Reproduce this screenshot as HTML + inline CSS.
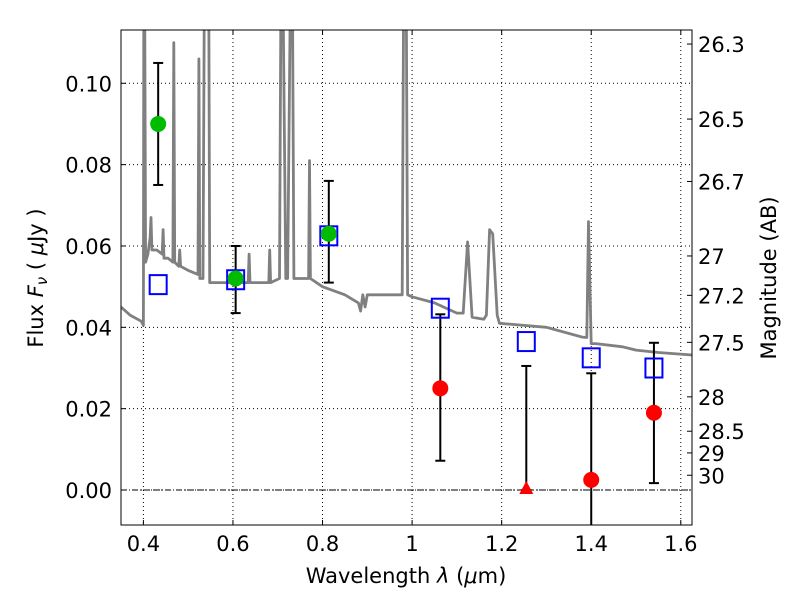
<!DOCTYPE html>
<html><head><meta charset="utf-8"><style>
body{margin:0;background:#fff}
svg{display:block;font-family:"DejaVu Sans","Liberation Sans",sans-serif}
</style></head><body>
<svg id="chart" width="800" height="600"></svg>
<script>
const specLam=[0.35,0.37,0.395,0.400,0.401,0.403,0.405,0.41,0.415,0.417,0.419,0.43,0.442,0.444,0.446,0.455,0.466,0.468,0.470,0.479,0.481,0.483,0.50,0.522,0.524,0.526,0.533,0.536,0.540,0.546,0.548,0.56,0.60,0.634,0.636,0.638,0.68,0.682,0.684,0.704,0.707,0.712,0.718,0.722,0.728,0.733,0.736,0.76,0.769,0.771,0.773,0.80,0.85,0.88,0.885,0.89,0.895,0.90,0.95,0.978,0.981,0.984,0.987,0.99,1.0,1.05,1.10,1.114,1.124,1.134,1.16,1.166,1.173,1.18,1.19,1.195,1.30,1.38,1.39,1.394,1.40,1.41,1.47,1.50,1.55,1.625];
const specFlux=[0.045,0.043,0.0415,0.0405,0.12,0.12,0.056,0.058,0.062,0.067,0.059,0.059,0.058,0.064,0.057,0.057,0.056,0.110,0.056,0.055,0.059,0.055,0.054,0.053,0.106,0.052,0.052,0.12,0.12,0.12,0.051,0.051,0.051,0.051,0.058,0.051,0.051,0.059,0.051,0.052,0.12,0.12,0.052,0.052,0.12,0.12,0.052,0.052,0.052,0.081,0.052,0.050,0.048,0.046,0.044,0.048,0.045,0.048,0.048,0.048,0.12,0.12,0.12,0.048,0.0475,0.046,0.0435,0.0435,0.061,0.0425,0.042,0.043,0.064,0.063,0.043,0.041,0.040,0.0376,0.0375,0.066,0.036,0.036,0.0352,0.0344,0.0338,0.0332];
const photLam=[0.433,0.606,0.814];
const photFlux=[0.090,0.052,0.063];
const photLo=[0.075,0.0435,0.051];
const photHi=[0.105,0.060,0.076];
const modelLam=[0.433,0.606,0.814,1.063,1.255,1.40,1.54];
const modelFlux=[0.0505,0.0517,0.0625,0.0447,0.0365,0.0325,0.0300];
const ulLam=[1.063,1.255,1.40,1.54];
const ulFlux=[0.025,0.0,0.0025,0.019];
const ulLo=[0.0072,0.0,-0.02,0.0017];
const ulHi=[0.0432,0.0305,0.0287,0.0362];
const ulIsLimit=[false,true,false,false];
const xTicks=[0.4,0.6,0.8,1.0,1.2,1.4,1.6];
const xTickLabels=["0.4","0.6","0.8","1","1.2","1.4","1.6"];
const yTicks=[0,0.02,0.04,0.06,0.08,0.10];
const yTickLabels=["0.00","0.02","0.04","0.06","0.08","0.10"];
const magTicks=[26.3,26.5,26.7,27,27.2,27.5,28,28.5,29,30];

const L=121,R=692,T=30,B=525,xmin=0.35,xmax=1.625,ymin=-0.0086,ymax=0.1131;
const X=v=>L+(v-xmin)/(xmax-xmin)*(R-L);
const Y=v=>B-(v-ymin)/(ymax-ymin)*(B-T);
const NS="http://www.w3.org/2000/svg";
const svg=document.getElementById('chart');
function mk(tag,attrs,parent){const e=document.createElementNS(NS,tag);for(const k in attrs)e.setAttribute(k,attrs[k]);(parent||svg).appendChild(e);return e;}
const defs=mk('defs',{});const cp=mk('clipPath',{id:'clip'},defs);mk('rect',{x:L,y:T,width:R-L,height:B-T},cp);

xTicks.forEach((v,i)=>{
  const g=mk('line',{x1:X(v),x2:X(v),y1:T,y2:B,stroke:'#000','stroke-width':1,'stroke-dasharray':'1,3'});
  
  
  mk('line',{x1:X(v),x2:X(v),y1:B,y2:B-5,stroke:'#000'});
  mk('line',{x1:X(v),x2:X(v),y1:T,y2:T+5,stroke:'#000'});
  const t=mk('text',{x:X(v),y:B+26,'text-anchor':'middle','font-size':21});
  t.textContent=xTickLabels[i];
  
  
});
yTicks.forEach((v,i)=>{
  const g=mk('line',{x1:L,x2:R,y1:Y(v),y2:Y(v),stroke:'#000','stroke-width':1,'stroke-dasharray':'1,3'});
  
  
  mk('line',{x1:L,x2:L+5,y1:Y(v),y2:Y(v),stroke:'#000'});
  const t=mk('text',{x:L-9,y:Y(v)+8,'text-anchor':'end','font-size':21});
  t.textContent=yTickLabels[i];
  
  
});
const z=mk('line',{x1:L,x2:R,y1:Y(0),y2:Y(0),stroke:'#000','stroke-width':1,'stroke-dasharray':'6,2,1,2'});


magTicks.forEach(m=>{
  const f=Math.pow(10,(23.9-m)/2.5);
  const y=Y(f);
  mk('line',{x1:R,x2:R-5,y1:y,y2:y,stroke:'#000'});
  const t=mk('text',{x:R+6,y:y+8,'font-size':21});
  t.textContent=String(m);
  
  
});
const gClip=mk('g',{'clip-path':'url(#clip)'});
let d='';specLam.forEach((l,i)=>{d+=(i?'L':'M')+X(l).toFixed(1)+','+Y(specFlux[i]).toFixed(1);});
const sp=mk('path',{d:d,fill:'none',stroke:'#808080','stroke-width':2.8,'stroke-linejoin':'round'},gClip);


function eb(x,lo,hi,capLo){
  const g=mk('g',{},gClip);
  
  
  mk('line',{x1:x,x2:x,y1:Y(lo),y2:Y(hi),stroke:'#000','stroke-width':2},g);
  mk('line',{x1:x-5,x2:x+5,y1:Y(hi),y2:Y(hi),stroke:'#000','stroke-width':2},g);
  if(capLo)mk('line',{x1:x-5,x2:x+5,y1:Y(lo),y2:Y(lo),stroke:'#000','stroke-width':2},g);
}
photLam.forEach((l,i)=>eb(X(l),photLo[i],photHi[i],true));
ulLam.forEach((l,i)=>eb(X(l),ulLo[i],ulHi[i],ulLo[i]>=ymin));
modelLam.forEach((l,i)=>{
  const r=mk('rect',{x:X(l)-8.5,y:Y(modelFlux[i])-9.5,width:17,height:19,fill:'none',stroke:'#0000ff','stroke-width':2},gClip);
  
  
});
photLam.forEach((l,i)=>{
  const c=mk('circle',{cx:X(l),cy:Y(photFlux[i]),r:8,fill:'#00bb00'},gClip);
  
  
});
ulLam.forEach((l,i)=>{
  const x=X(l),y=Y(ulFlux[i]);
  let e;
  if(ulIsLimit[i]) e=mk('polygon',{points:`${x},${y-9} ${x-7},${y+4} ${x+7},${y+4}`,fill:'#ff0000'},gClip);
  else e=mk('circle',{cx:x,cy:y,r:8,fill:'#ff0000'},gClip);
  
  
});
const fr=mk('rect',{x:L,y:T,width:R-L,height:B-T,fill:'none',stroke:'#000','stroke-width':1});


</script>
<div style="position:absolute;left:0;top:0;width:800px;height:600px;pointer-events:none">
<svg width="800" height="600" style="font-family:'DejaVu Sans','Liberation Sans',sans-serif">
<text x="406" y="583" text-anchor="middle" font-size="21">Wavelength  <tspan font-style="italic">λ</tspan> (<tspan font-style="italic">μ</tspan>m)</text>
<text transform="translate(43,278) rotate(-90)" text-anchor="middle" font-size="21">Flux  <tspan font-style="italic">F</tspan><tspan font-style="italic" font-size="15" dy="4">ν</tspan><tspan dy="-4">  ( </tspan><tspan font-style="italic">μ</tspan>Jy )</text>
<text transform="translate(776,278) rotate(-90)" text-anchor="middle" font-size="21">Magnitude (AB)</text>
</svg></div>
</body></html>
